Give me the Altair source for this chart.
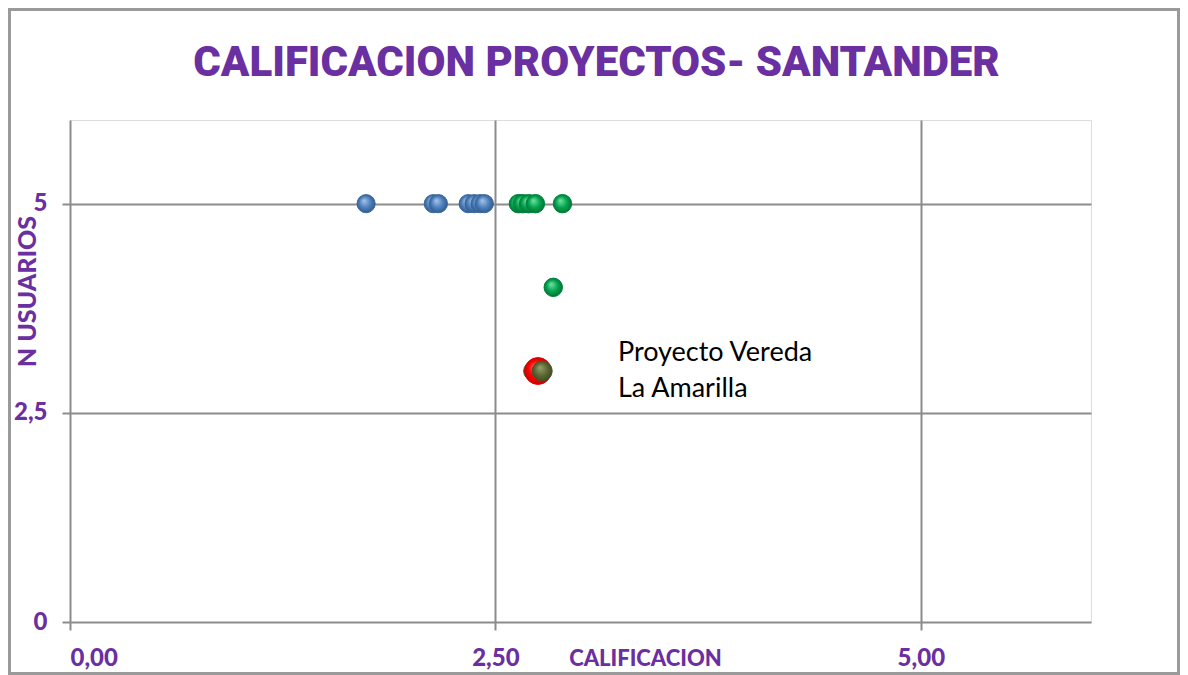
import altair as alt
import pandas as pd

# ---- data ----
blue_x = [1.74, 2.135, 2.165, 2.34, 2.375, 2.41, 2.435]
blue_y = [5, 5, 5, 5, 5, 5, 5]
green_x = [2.635, 2.66, 2.695, 2.735, 2.894, 2.84, 2.72]
green_y = [5, 5, 5, 5, 5, 4, 3]
red_x = [2.75]
red_y = [3]
olive_x = [2.775]
olive_y = [3]
label_x = [3.22]
label_y = [3]
label_text = [["Proyecto Vereda", "La Amarilla"]]

PURPLE = "#6a2fa0"
GRID = "#8c8c8c"
W, H = 1021, 502
PAD_L, PAD_T, PAD_R, PAD_B = 62, 112, 89, 53


def radial(c0, c1, c2):
    return {
        "gradient": "radial",
        "x1": 0.38, "y1": 0.32, "r1": 0.0,
        "x2": 0.5, "y2": 0.5, "r2": 0.55,
        "stops": [
            {"offset": 0.0, "color": c0},
            {"offset": 0.55, "color": c1},
            {"offset": 1.0, "color": c2},
        ],
    }


xs = alt.Scale(domain=[0, 6], nice=False, zero=False)
ys = alt.Scale(domain=[0, 6], nice=False, zero=False)

x_axis = alt.Axis(
    values=[0, 2.5, 5],
    labelExpr="replace(format(datum.value, '.2f'), '.', ',')",
    grid=True, gridColor=GRID, gridWidth=2,
    domain=False, ticks=True, tickSize=8, tickColor=GRID, tickWidth=2,
    labelFont="Lato", labelFontWeight=900, labelFontSize=24, labelColor=PURPLE,
    labelPadding=35, labelBaseline="alphabetic",
    title="CALIFICACION", titleFont="Lato", titleFontWeight=900, titleFontSize=22,
    titleColor=PURPLE, titleX=575, titleY=43, titleAlign="center",
    titleBaseline="alphabetic", titleAnchor="start",
)
y_axis = alt.Axis(
    values=[0, 2.5, 5],
    labelExpr="replace(toString(datum.value), '.', ',')",
    grid=True, gridColor=GRID, gridWidth=2,
    domain=False, ticks=True, tickSize=8, tickColor=GRID, tickWidth=2,
    labelFont="Lato", labelFontWeight=900, labelFontSize=24, labelColor=PURPLE,
    labelPadding=15, labelBaseline="middle",
    title="N USUARIOS", titleFont="Lato", titleFontWeight=900, titleFontSize=25,
    titleColor=PURPLE, titleX=-43, titleY=171, titleAlign="center",
    titleBaseline="middle", titleAngle=270, titleAnchor="start",
)


def pts(xv, yv, size, fill, stroke):
    df = pd.DataFrame({"x": xv, "y": yv})
    return alt.Chart(df).mark_point(
        shape="circle", filled=True, size=size, fill=fill, stroke=stroke,
        strokeWidth=1, opacity=1,
    ).encode(
        x=alt.X("x:Q", scale=xs, axis=x_axis),
        y=alt.Y("y:Q", scale=ys, axis=y_axis),
    )


border = alt.Chart(pd.DataFrame({"a": [0]})).mark_rect(
    fillOpacity=0, stroke="#9a9a9a", strokeWidth=3
).encode(
    x=alt.value(-PAD_L + 1.5), x2=alt.value(W + PAD_R - 1.5),
    y=alt.value(-PAD_T + 1.5), y2=alt.value(H + PAD_B - 1.5),
)

blue = pts(blue_x, blue_y, 330, radial("#a9c6ec", "#4f81bd", "#2b5588"), "#3a6699")
green = pts(green_x, green_y, 340, radial("#7de0a6", "#00a650", "#006a30"), "#00803a")
red = pts(red_x, red_y, 720, radial("#ff6a6a", "#ff0000", "#c00000"), "#dd0000")
olive = pts(olive_x, olive_y, 400, radial("#9aa070", "#5f6a36", "#3e4520"), "#4b5228")

label_df = pd.DataFrame({"x": label_x, "y": label_y, "t": label_text})
label = alt.Chart(label_df).mark_text(
    align="left", baseline="middle", font="Lato", fontSize=27,
    color="#000000", lineHeight=36, dy=-18,
).encode(x=alt.X("x:Q", scale=xs), y=alt.Y("y:Q", scale=ys), text="t:N")

chart = alt.layer(border, blue, green, red, olive, label).properties(
    width=W, height=H,
    title=alt.TitleParams(
        "CALIFICACION PROYECTOS- SANTANDER",
        font="Roboto", fontWeight=900, fontSize=42, color=PURPLE,
        anchor="middle", frame="group", baseline="alphabetic",
        offset=0, dy=110, dx=16,
    ),
    autosize=alt.AutoSizeParams(type="none"),
    padding={"left": PAD_L, "top": PAD_T, "right": PAD_R, "bottom": PAD_B},
).configure_view(strokeWidth=0, stroke="transparent").configure(background="white")

chart.save("out.html", embed_options={"renderer": "svg", "actions": False})
